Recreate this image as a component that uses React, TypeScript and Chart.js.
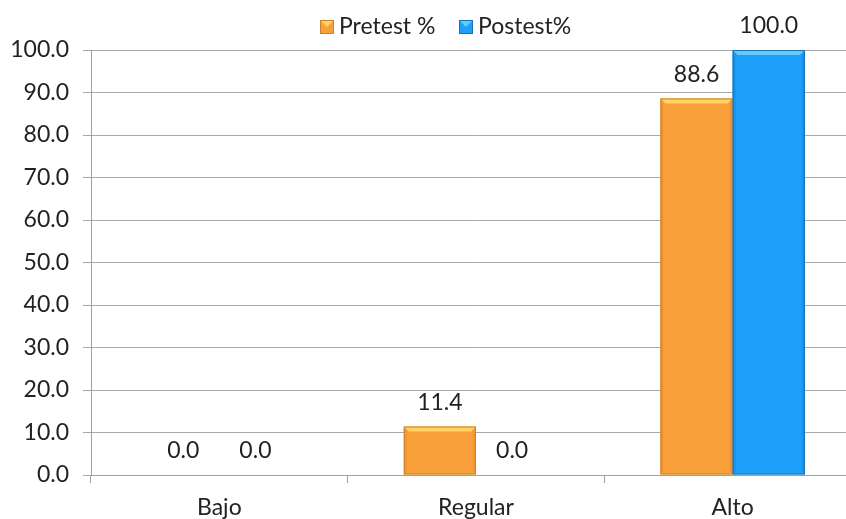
import React, { useEffect, useRef } from "react";
import { Chart, registerables } from "chart.js";

Chart.register(...registerables);

const categories = ["Bajo", "Regular", "Alto"];
const pretest = [0.0, 11.4, 88.6];
const postest = [0.0, 0.0, 100.0];
const seriesNames = ["Pretest %", "Postest%"];

const FONT = "Lato, 'Open Sans', sans-serif";
const TEXT = "#222222";
const FS = 23;

const palettes = [
  { main: "#FAA03A", light: "#FFD464", side: "#F3952F", dark: "#C98330" },
  { main: "#1EA0FA", light: "#62CCFF", side: "#1A93E8", dark: "#1C70B0" },
];

const bevelPlugin = {
  id: "bevel",
  afterDatasetsDraw(chart: any) {
    const ctx = chart.ctx;
    chart.data.datasets.forEach((ds: any, di: number) => {
      const meta = chart.getDatasetMeta(di);
      const p = palettes[di];
      meta.data.forEach((bar: any) => {
        const { x, y, base, width } = bar.getProps(["x", "y", "base", "width"], true);
        const h = base - y;
        if (h < 2) return;
        const l = x - width / 2;
        const r = x + width / 2;
        const b = Math.min(5, h / 3);
        ctx.save();
        // top bevel
        ctx.fillStyle = p.light;
        ctx.beginPath();
        ctx.moveTo(l, y);
        ctx.lineTo(r, y);
        ctx.lineTo(r - b, y + b);
        ctx.lineTo(l + b, y + b);
        ctx.closePath();
        ctx.fill();
        // sides
        ctx.fillStyle = p.side;
        ctx.beginPath();
        ctx.moveTo(l, y);
        ctx.lineTo(l + b * 0.6, y + b);
        ctx.lineTo(l + b * 0.6, base - b * 0.6);
        ctx.lineTo(l, base);
        ctx.closePath();
        ctx.fill();
        ctx.beginPath();
        ctx.moveTo(r, y);
        ctx.lineTo(r - b * 0.6, y + b);
        ctx.lineTo(r - b * 0.6, base - b * 0.6);
        ctx.lineTo(r, base);
        ctx.closePath();
        ctx.fill();
        // outline
        ctx.strokeStyle = p.dark;
        ctx.lineWidth = 1;
        ctx.strokeRect(l + 0.5, y + 0.5, width - 1, h - 1);
        ctx.restore();
      });
    });
  },
};

const labelPlugin = {
  id: "valueLabels",
  afterDatasetsDraw(chart: any) {
    const ctx = chart.ctx;
    ctx.save();
    ctx.font = `${FS}px ${FONT}`;
    ctx.fillStyle = TEXT;
    ctx.textAlign = "center";
    ctx.textBaseline = "middle";
    chart.data.datasets.forEach((ds: any, di: number) => {
      const meta = chart.getDatasetMeta(di);
      meta.data.forEach((bar: any, i: number) => {
        const v = ds.data[i] as number;
        ctx.fillText(v.toFixed(1), bar.x, bar.y - 24);
      });
    });
    ctx.restore();
  },
};

const legendPlugin = {
  id: "customLegend",
  afterDraw(chart: any) {
    const ctx = chart.ctx;
    ctx.save();
    ctx.font = `${FS}px ${FONT}`;
    ctx.textBaseline = "middle";
    ctx.textAlign = "left";
    const positions = [320, 459];
    seriesNames.forEach((name, i) => {
      const bx = positions[i];
      const by = 20;
      const s = 14;
      const p = palettes[i];
      ctx.fillStyle = p.main;
      ctx.fillRect(bx, by, s, s);
      ctx.fillStyle = p.light;
      ctx.beginPath();
      ctx.moveTo(bx, by);
      ctx.lineTo(bx + s, by);
      ctx.lineTo(bx + s / 2, by + s / 2);
      ctx.closePath();
      ctx.fill();
      ctx.strokeStyle = p.dark;
      ctx.lineWidth = 1;
      ctx.strokeRect(bx + 0.5, by + 0.5, s - 1, s - 1);
      ctx.fillStyle = TEXT;
      ctx.fillText(name, bx + s + 5, by + s / 2);
    });
    ctx.restore();
  },
};

export default function App() {
  const ref = useRef<HTMLCanvasElement>(null);

  useEffect(() => {
    if (!ref.current) return;
    const chart = new Chart(ref.current, {
      type: "bar",
      data: {
        labels: categories,
        datasets: [
          {
            label: seriesNames[0],
            data: pretest,
            backgroundColor: palettes[0].main,
            categoryPercentage: 0.5625,
            barPercentage: 1,
          },
          {
            label: seriesNames[1],
            data: postest,
            backgroundColor: palettes[1].main,
            categoryPercentage: 0.5625,
            barPercentage: 1,
          },
        ],
      },
      options: {
        responsive: false,
        animation: false,
        devicePixelRatio: 1,
        layout: { padding: { top: 50, left: 8, right: 0, bottom: 0 } },
        plugins: {
          legend: { display: false },
          tooltip: { enabled: false },
        },
        scales: {
          x: {
            grid: {
              display: true,
              drawOnChartArea: false,
              offset: true,
              tickLength: 8,
              color: "#A0A0A0",
            },
            border: { color: "#A0A0A0", width: 1 },
            ticks: {
              color: TEXT,
              font: { family: FONT, size: FS },
              padding: 11,
            },
            afterFit: (scale: any) => {
              scale.height = 44;
            },
          },
          y: {
            min: 0,
            max: 100,
            ticks: {
              stepSize: 10,
              color: TEXT,
              font: { family: FONT, size: FS },
              padding: 14,
              callback: (v: any) => Number(v).toFixed(1),
            },
            grid: { color: "#A8A8A8", tickLength: 8, lineWidth: 1 },
            border: { color: "#A0A0A0", width: 1 },
            afterFit: (scale: any) => {
              scale.width = 83;
            },
          },
        },
      },
      plugins: [bevelPlugin, labelPlugin, legendPlugin],
    });
    return () => chart.destroy();
  }, []);

  return (
    <div
      style={{
        position: "absolute",
        left: 0,
        top: 0,
        width: 846,
        height: 519,
        overflow: "hidden",
        background: "#FFFFFF",
      }}
    >
      <canvas ref={ref} width={861} height={519} style={{ width: 861, height: 519 }} />
    </div>
  );
}
